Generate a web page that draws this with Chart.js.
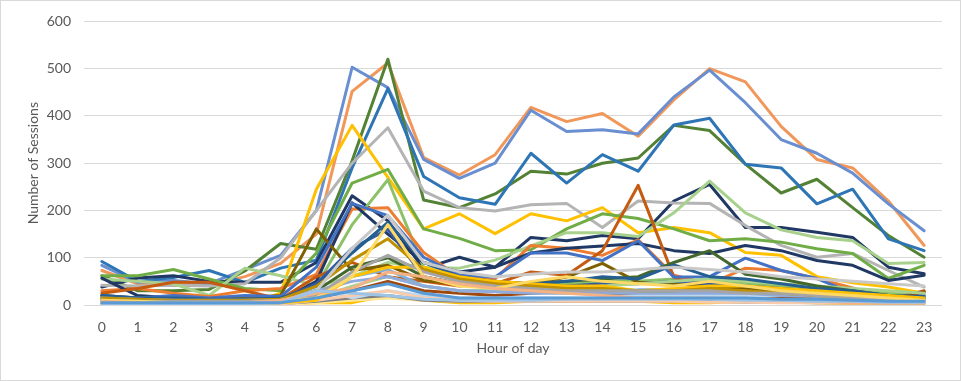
<!DOCTYPE html>
<html>
<head>
<meta charset="utf-8">
<script src="https://cdn.jsdelivr.net/npm/chart.js@4.4.1/dist/chart.umd.min.js"></script>
<style>
  html, body { margin: 0; padding: 0; background: #ffffff; }
  #wrap { width: 961px; height: 381px; }
</style>
</head>
<body>
<div id="wrap"><canvas id="c" width="961" height="381"></canvas></div>
<script>
// ---------- DATA ----------
const hours = ['0','1','2','3','4','5','6','7','8','9','10','11','12','13','14','15','16','17','18','19','20','21','22','23'];
const yTicks = [0, 100, 200, 300, 400, 500, 600];

// minor (low) series
const m01 = [5,5,5,5,5,5,15,30,45,25,15,15,15,15,15,15,15,15,15,12,12,10,8,8];
const m02 = [3,3,3,3,3,5,30,25,20,12,10,10,10,12,12,12,12,12,10,10,8,8,6,6];
const m03 = [8,5,5,5,5,10,25,35,70,60,45,35,30,25,20,15,15,15,12,10,8,5,5,5];
const m04 = [10,8,5,5,5,8,15,60,170,60,40,35,50,60,50,45,40,50,40,30,25,20,15,10];
const m05 = [5,5,5,5,5,8,30,120,190,90,70,60,65,70,70,75,80,75,70,60,55,50,45,40];
const m06 = [10,8,8,8,8,10,20,70,105,70,50,40,35,30,30,30,30,30,25,25,20,15,10,10];
const m07 = [15,12,10,10,10,12,40,95,140,75,55,45,40,35,35,30,30,35,30,25,20,15,12,10];
const m08 = [5,5,5,5,5,5,10,60,80,80,60,50,45,40,40,30,35,40,40,35,30,25,20,15];
const m09 = [15,12,10,10,10,12,30,50,60,40,30,28,25,25,25,25,25,25,25,20,18,15,12,12];
const m10 = [20,15,15,12,12,15,40,110,175,90,60,50,45,50,60,55,85,60,55,45,35,30,20,18];
const m11 = [10,8,8,8,8,10,30,80,100,60,45,40,45,50,55,60,90,115,65,55,40,30,20,15];
const m12 = [5,5,5,5,5,5,15,40,60,40,30,30,30,35,40,45,50,55,50,45,40,35,30,25];
const m13 = [2,2,2,2,2,2,10,20,30,15,10,8,8,8,8,8,8,6,6,5,5,4,4,4];
const m14 = [8,6,6,6,6,8,25,60,75,40,30,30,30,30,30,32,32,30,28,25,22,20,18,15];
const m15 = [5,5,5,5,5,5,35,15,30,20,15,15,15,15,15,20,20,20,20,20,20,20,15,12];
const m16 = [3,3,3,3,3,3,8,15,20,10,8,8,8,8,8,8,8,8,6,6,5,5,4,4];
const m17 = [0,0,0,0,0,0,5,10,15,10,8,8,8,8,8,8,8,8,6,6,5,5,4,4];
const m18 = [5,5,5,5,5,5,15,30,50,30,25,20,25,30,25,20,22,25,20,18,15,12,10,28];
const m19 = [20,15,20,15,20,18,80,215,189,101,63,59,110,110,94,136,59,60,99,73,56,25,15,20];
const m20 = [15,12,10,10,10,12,45,120,160,60,45,40,40,40,45,45,50,45,40,35,30,25,18,15];
const m21 = [0,0,0,0,0,0,5,5,20,10,5,5,8,10,8,8,5,5,8,8,5,3,2,3];

// main series
const olive     = [20,15,15,12,15,20,161,73,84,52,45,40,45,59,88,48,45,40,35,30,25,20,15,10];
const rust      = [25,35,48,48,30,12,60,90,60,50,40,45,70,63,115,253,59,28,30,35,25,20,10,30];
const navy2     = [57,20,15,12,12,10,50,216,150,90,70,80,110,120,125,130,115,109,126,115,94,84,52,63];
const orange    = [30,35,25,18,30,35,65,203,206,111,59,56,126,120,105,138,63,44,78,73,56,36,10,27];
const lgreen8   = [10,8,8,8,10,15,40,170,265,80,50,45,40,45,50,50,55,50,45,40,35,30,25,20];
const lgreen17  = [55,50,45,20,78,62,40,60,90,80,78,95,125,153,153,145,195,262,195,159,143,136,88,90];
const green     = [62,62,75,55,35,30,110,258,287,161,141,115,117,161,193,183,161,136,140,133,119,109,56,84];
const gold      = [10,8,5,0,0,25,245,380,270,161,193,151,193,178,206,153,164,153,111,105,60,47,38,25];
const gray      = [42,40,42,40,45,100,200,300,375,241,206,199,212,215,164,220,216,215,168,126,101,109,73,38];
const navy      = [38,57,62,50,48,48,90,231,178,77,101,80,143,136,147,140,220,255,164,164,154,143,80,66];
const midBlue   = [92,50,58,73,48,78,95,290,458,272,227,213,321,258,318,283,381,395,298,290,214,245,140,115];
const darkGreen = [62,30,30,33,72,130,118,305,520,222,206,235,283,277,300,311,380,369,298,237,266,206,147,101];
const softBlue  = [84,48,52,45,75,105,200,503,460,308,268,300,412,367,371,362,440,497,428,350,321,279,214,157];
const softOrange= [73,45,48,42,60,88,150,452,512,312,275,318,418,388,405,357,434,500,472,378,308,290,220,126];

// ---------- STYLES ----------
const seriesList = [
  [m01,'#5B9BD5'],[m02,'#9DC3E6'],[m03,'#F4B183'],[m04,'#FFD966'],[m05,'#C9C9C9'],
  [m06,'#A5A5A5'],[m07,'#BF9000'],[m08,'#FFC000'],[m09,'#8FAADC'],[m10,'#255E91'],
  [m11,'#43682B'],[m12,'#A9D18E'],[m13,'#F8CBAD'],[m14,'#7CAFDD'],[m15,'#BDD7EE'],
  [m16,'#7F7F7F'],[m17,'#FFE699'],[m18,'#9E480E'],[m19,'#4472C4'],[m20,'#335AA1'],
  [m21,'#FFC000'],
  [olive,'#7F6000'],[rust,'#C55A11'],[navy2,'#1F3864'],[orange,'#ED7D31'],
  [lgreen8,'#8CC168'],[lgreen17,'#A9D18E'],[green,'#70AD47'],[gold,'#FFC000'],
  [gray,'#B4B4B4'],[navy,'#203864'],[midBlue,'#2E75B6'],[darkGreen,'#548235'],
  [softBlue,'#6A8FD0'],[softOrange,'#F1975A']
];

const datasets = seriesList.map(([d, c], i) => ({
  label: 'Series ' + (i + 1),
  data: d,
  borderColor: c,
  backgroundColor: c,
  borderWidth: 3,
  pointRadius: 0,
  tension: 0,
  fill: false,
  borderJoinStyle: 'round',
  borderCapStyle: 'round'
}));

const frame = {
  id: 'frame',
  afterDraw(chart) {
    const ctx = chart.ctx;
    ctx.save();
    ctx.strokeStyle = '#D9D9D9';
    ctx.lineWidth = 1;
    ctx.strokeRect(0.5, 0.5, chart.width - 1, chart.height - 1);
    ctx.restore();
  }
};

Chart.defaults.font.family = 'Lato, "Liberation Sans", sans-serif';
Chart.defaults.color = '#595959';

new Chart(document.getElementById('c'), {
  type: 'line',
  data: { labels: hours, datasets },
  options: {
    responsive: false,
    animation: false,
    layout: { padding: { top: 19, right: 19, left: 0, bottom: 0 } },
    plugins: { legend: { display: false }, tooltip: { enabled: false } },
    scales: {
      x: {
        offset: true,
        grid: { display: false },
        border: { display: false },
        ticks: { font: { size: 14 }, color: '#595959', padding: 6, maxRotation: 0, autoSkip: false },
        title: { display: true, text: 'Hour of day', font: { size: 14 }, color: '#595959', padding: { top: 0, bottom: 24 } },
        afterFit(s) { s.height = 76; }
      },
      y: {
        min: 0, max: 600,
        afterBuildTicks(s) { s.ticks = yTicks.map(v => ({ value: v })); },
        grid: { color: '#D9D9D9', lineWidth: 1, drawTicks: false },
        border: { display: false },
        ticks: { font: { size: 14 }, color: '#595959', padding: 13 },
        title: { display: true, text: 'Number of Sessions', font: { size: 14 }, color: '#595959', padding: { top: 25, bottom: 0 } },
        afterFit(s) { s.width = 84; }
      }
    }
  },
  plugins: [frame]
});
</script>
</body>
</html>
